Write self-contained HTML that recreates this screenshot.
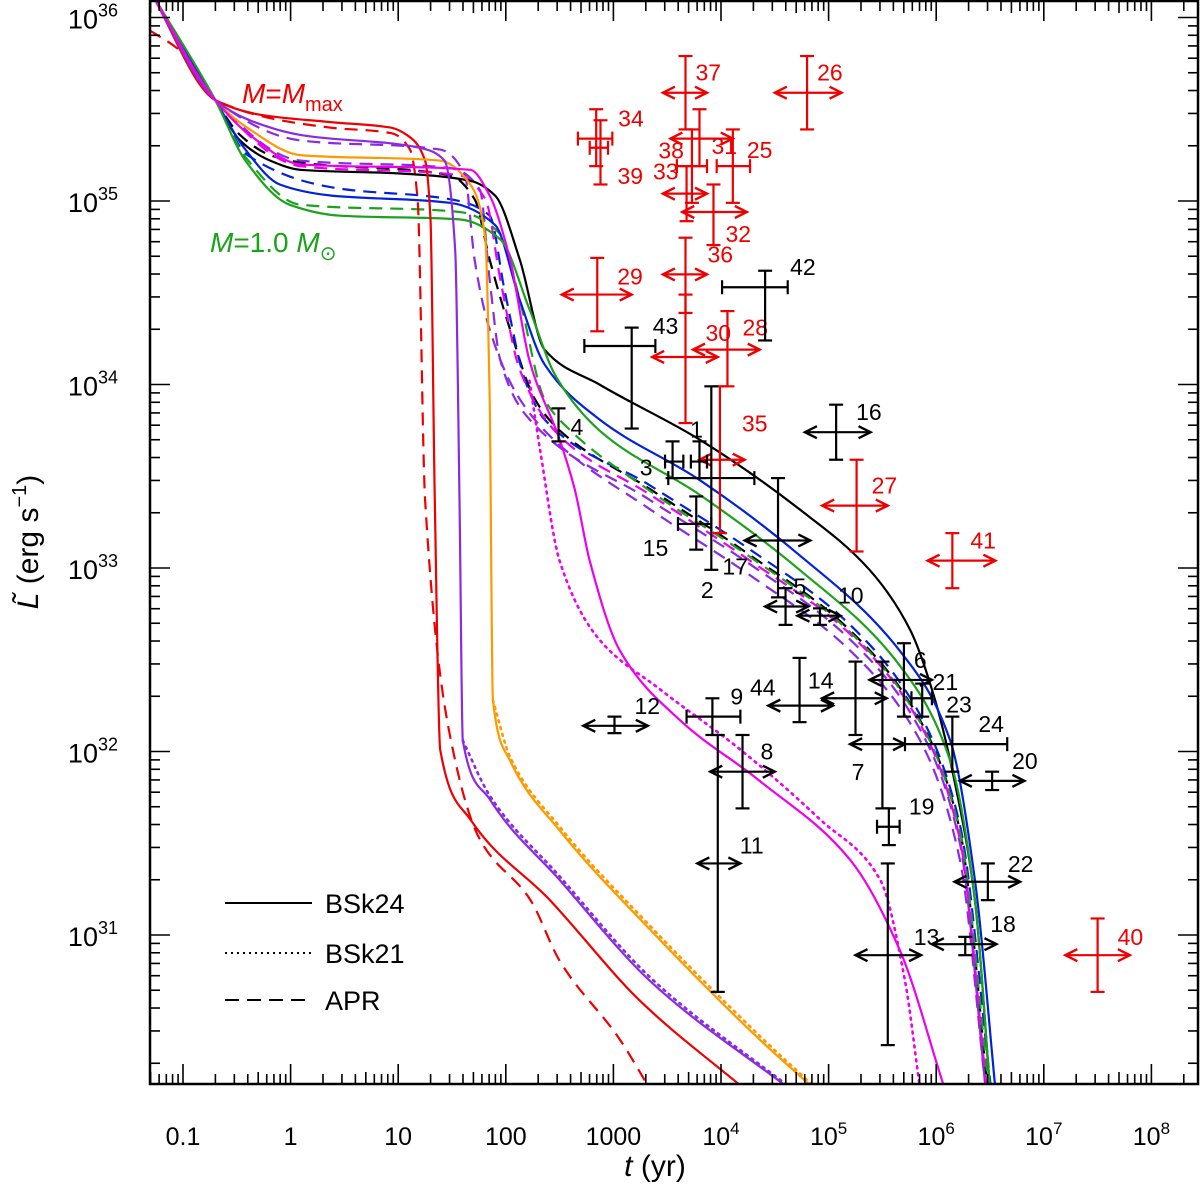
<!DOCTYPE html>
<html><head><meta charset="utf-8"><style>
body{margin:0;background:#fff}
svg{display:block}
text{font-family:"Liberation Sans",sans-serif}
</style></head><body>
<svg id="chart" width="1200" height="1186" viewBox="0 0 1200 1186" xmlns="http://www.w3.org/2000/svg">
<defs><clipPath id="plotclip"><rect x="150" y="0" width="1048" height="1084"/></clipPath></defs>
<rect x="0" y="0" width="1200" height="1186" fill="#fff"/>
<g id="curves" clip-path="url(#plotclip)"></g>
<g id="points"></g>
<g id="axes"></g>
<text x="242" y="103" fill="#e00" font-size="28" font-family="Liberation Serif, serif"><tspan font-style="italic">M</tspan>=<tspan font-style="italic">M</tspan><tspan font-size="20" dy="8">max</tspan></text>
<text x="210" y="252" fill="#1aa31a" font-size="28" font-family="Liberation Serif, serif"><tspan font-style="italic">M</tspan>=1.0 <tspan font-style="italic">M</tspan><tspan font-size="20" dy="8">⊙</tspan></text>
<g>
<line x1="225" y1="903" x2="312" y2="903" stroke="#000" stroke-width="2"/>
<text x="325" y="913" font-size="27">BSk24</text>
<line x1="225" y1="953" x2="312" y2="953" stroke="#000" stroke-width="2" stroke-dasharray="2,4"/>
<text x="325" y="963" font-size="27">BSk21</text>
<line x1="225" y1="1000" x2="312" y2="1000" stroke="#000" stroke-width="2" stroke-dasharray="14,8"/>
<text x="325" y="1010" font-size="27">APR</text>
</g>
<text x="655" y="1176" font-size="30" text-anchor="middle" font-family="Liberation Serif, serif"><tspan font-style="italic">t</tspan>  (yr)</text>
<text transform="translate(38,542) rotate(-90)" font-size="30" text-anchor="middle" font-family="Liberation Serif, serif"><tspan font-style="italic">L̃</tspan>  (erg s<tspan dy="-12" font-size="20">−1</tspan><tspan dy="12">)</tspan></text>
</svg>
<script>
// axis scales (log10 t, log10 L)
function X(lg){return 290.6+lg*107.6;}
function Y(lg){return 201+(35-lg)*183.5;}
var NS="http://www.w3.org/2000/svg";
function mk(tag,attrs,parent){var e=document.createElementNS(NS,tag);for(var k in attrs)e.setAttribute(k,attrs[k]);parent.appendChild(e);return e;}

var xTickLabels=["0.1","1","10","100","1000","10^4","10^5","10^6","10^7","10^8"];
var xTickExps=[-1,0,1,2,3,4,5,6,7,8];
var yTickExps=[31,32,33,34,35,36];

// curves: [log t, log L]
var blackSolid=[[-1.31,36.15],[-0.70,35.55],[-0.47,35.33],[-0.19,35.22],[0.09,35.17],[1.02,35.15],[1.67,35.11],[1.90,35.03],[2.13,34.68],[2.36,34.19],[2.87,34.0],[3.80,33.70],[4.73,33.32],[5.38,32.99],[5.76,32.66],[5.99,32.28],[6.17,31.84],[6.36,31.19],[6.50,30.16]];
var blueSolid=[[-1.31,36.15],[-0.70,35.55],[-0.42,35.28],[-0.10,35.09],[0.37,35.03],[1.48,34.99],[1.90,34.87],[2.13,34.46],[2.36,34.11],[2.87,33.81],[3.80,33.48],[4.73,33.07],[5.66,32.55],[6.13,32.06],[6.36,31.30],[6.55,30.16]];
var greenSolid=[[-1.31,36.15],[-0.70,35.55],[-0.42,35.22],[-0.01,34.98],[0.46,34.92],[1.57,34.90],[1.95,34.79],[2.22,34.41],[2.46,34.05],[2.87,33.75],[3.80,33.40],[4.73,32.99],[5.66,32.47],[6.13,31.95],[6.36,31.19],[6.50,30.16]];
var redSolid=[[-1.31,36.15],[-0.70,35.55],[-0.28,35.47],[0.37,35.43],[0.93,35.40],[1.08,35.36],[1.25,35.22],[1.30,34.90],[1.34,33.37],[1.39,32.01],[1.67,31.63],[2.41,31.19],[3.25,30.64],[4.22,30.16]];
var redDashed=[[-1.31,35.93],[-1.03,35.82],[-0.70,35.55],[0.37,35.40],[0.93,35.37],[1.11,35.28],[1.18,35.01],[1.25,33.37],[1.53,31.95],[1.76,31.52],[2.23,31.19],[2.50,30.86],[3.06,30.43],[3.34,30.16]];
var orangeSolid=[[-1.31,36.15],[-0.70,35.55],[-0.38,35.39],[0.09,35.25],[1.39,35.22],[1.67,35.09],[1.81,34.79],[1.85,33.92],[1.88,32.28],[2.04,31.95],[2.50,31.57],[3.34,31.03],[4.36,30.43],[4.87,30.16]];
var orangeDotted=[[1.88,32.28],[2.04,31.97],[2.50,31.59],[3.34,31.05],[4.36,30.45],[4.89,30.16]];
var purpleSolid=[[-1.31,36.15],[-0.70,35.55],[-0.38,35.44],[0.09,35.36],[1.20,35.29],[1.43,35.22],[1.53,34.73],[1.57,33.37],[1.60,32.06],[1.85,31.74],[2.50,31.30],[3.34,30.75],[4.64,30.16]];
var purpleDotted=[[1.60,32.06],[1.85,31.76],[2.50,31.32],[3.34,30.77],[4.66,30.16]];
var magentaSolid=[[-1.31,36.15],[-0.70,35.55],[-0.38,35.36],[0.09,35.20],[1.67,35.17],[1.85,35.03],[2.04,34.68],[2.22,34.13],[2.50,33.70],[2.64,33.43],[2.78,33.04],[3.06,32.55],[3.62,32.17],[4.36,31.84],[5.20,31.41],[5.66,30.92],[6.08,30.16]];
var magentaDotted=[[2.22,34.02],[2.32,33.64],[2.50,33.04],[2.87,32.61],[3.43,32.34],[4.18,32.01],[4.92,31.63],[5.48,31.30],[5.71,30.75],[5.85,30.16]];
var blackDashed=[[-1.31,36.15],[-0.70,35.55],[-0.47,35.36],[-0.19,35.25],[0.09,35.21],[1.48,35.14],[1.71,35.01],[1.85,34.68],[2.04,34.30],[2.27,33.92],[2.50,33.75],[3.34,33.43],[4.27,33.07],[5.20,32.66],[5.85,32.17],[6.22,31.57],[6.48,30.16]];
var blueDashed=[[-1.31,36.15],[-0.70,35.55],[-0.40,35.25],[0.43,35.07],[1.48,35.01],[1.85,34.92],[1.99,34.51],[2.18,34.02],[2.36,33.81],[3.34,33.45],[4.27,33.10],[5.20,32.69],[5.85,32.20],[6.22,31.60],[6.51,30.16]];
var greenDashed=[[-1.31,36.15],[-0.70,35.55],[-0.42,35.24],[0.09,34.98],[1.57,34.94],[1.95,34.82],[2.13,34.46],[2.36,33.92],[2.60,33.75],[3.34,33.42],[4.27,33.06],[5.20,32.65],[5.85,32.16],[6.22,31.56],[6.49,30.16]];
var purpleDashedA=[[-1.31,36.15],[-0.70,35.55],[0.09,35.33],[1.39,35.28],[1.62,35.14],[1.71,34.68],[1.85,34.30],[2.13,33.92],[2.50,33.67],[3.34,33.32],[4.27,32.96],[5.20,32.55],[5.85,32.06],[6.22,31.41],[6.46,30.16]];
var purpleDashedB=[[-1.31,36.15],[-0.70,35.55],[0.09,35.22],[1.48,35.18],[1.76,35.06],[1.85,34.57],[1.95,34.13],[2.22,33.81],[3.34,33.37],[4.27,33.02],[5.20,32.61],[5.85,32.12],[6.22,31.50],[6.46,30.16]];
var magentaDashed=[[-1.31,36.15],[-0.70,35.55],[0.09,35.19],[1.57,35.14],[1.81,35.01],[1.95,34.57],[2.13,34.08],[2.50,33.72],[3.34,33.40],[4.27,33.04],[5.20,32.64],[5.85,32.15],[6.22,31.52],[6.47,30.16]];

var curveList=[
 ["curve-black-dashed",blackDashed,"#000","d"],["curve-blue-dashed",blueDashed,"#0022dd","d"],["curve-green-dashed",greenDashed,"#1aa31a","d"],
 ["curve-purple-dashed-a",purpleDashedA,"#8a2be2","d"],["curve-purple-dashed-b",purpleDashedB,"#8a2be2","d"],["curve-magenta-dashed",magentaDashed,"#ee00ee","d"],
 ["curve-red-dashed",redDashed,"#e00","d"],
 ["curve-orange-dotted",orangeDotted,"#ff9900","o"],["curve-purple-dotted",purpleDotted,"#8a2be2","o"],["curve-magenta-dotted",magentaDotted,"#ee00ee","o"],
 ["curve-black-solid",blackSolid,"#000","s"],["curve-blue-solid",blueSolid,"#0022dd","s"],["curve-green-solid",greenSolid,"#1aa31a","s"],
 ["curve-red-solid",redSolid,"#e00","s"],["curve-orange-solid",orangeSolid,"#ff9900","s"],["curve-purple-solid",purpleSolid,"#8a2be2","s"],["curve-magenta-solid",magentaSolid,"#ee00ee","s"]
];

// observations
var obsNames=["37","26","34","39","38","31","33","25","32","36","29","30","28","35","27","41","40",
 "42","43","4","1","3","2","15","17","5","10","16","6","21","23","14","44","7","24","19","20","12","9","8","11","13","22","18"];
var obsT=[3.67,4.80,2.84,2.88,3.73,3.80,3.68,4.11,3.93,3.67,2.85,3.67,4.06,3.99,5.26,6.15,7.50,
 4.41,3.17,2.49,3.80,3.55,3.91,3.77,4.53,4.60,4.92,5.07,5.70,5.65,5.87,5.25,4.73,5.50,6.15,5.56,6.52,3.01,3.92,4.20,3.97,5.55,6.48,6.27];
var obsL=[35.59,35.59,35.34,35.29,35.34,35.19,35.04,35.19,34.94,34.60,34.49,34.15,34.19,33.59,33.34,33.04,30.89,
 34.53,34.21,33.78,33.58,33.58,33.49,33.24,33.15,32.79,32.74,33.74,32.39,32.39,32.29,32.29,32.25,32.04,32.04,31.59,31.84,32.14,32.19,31.89,31.39,30.89,31.29,30.95];
var obsTlo=[3.46,4.50,2.67,2.78,3.53,3.59,3.46,3.96,3.64,3.46,2.52,3.36,3.74,3.80,4.94,5.92,7.20,
 4.01,2.73,2.49,3.72,3.48,3.51,3.60,4.22,4.41,4.71,4.78,5.70,5.38,5.77,4.94,4.44,5.20,5.71,5.45,6.22,2.72,3.68,3.90,3.78,5.25,6.17,5.96];
var obsThi=[3.87,5.12,2.99,2.95,4.11,3.87,3.87,4.27,4.24,3.87,3.17,3.97,4.36,4.22,5.55,6.55,7.80,
 4.62,3.39,2.49,3.87,3.65,4.31,3.91,4.83,4.81,5.11,5.39,5.70,5.96,5.96,5.54,5.04,5.71,6.66,5.66,6.82,3.32,4.18,4.50,4.18,5.86,6.78,6.56];
var obsLlo=[35.39,35.39,35.19,35.09,34.99,35.19,34.89,34.99,34.76,34.39,34.29,33.79,33.99,33.19,33.09,32.89,30.69,
 34.24,33.76,33.69,33.49,33.49,32.99,33.10,32.84,32.69,32.69,33.59,32.19,32.39,32.19,32.09,32.16,31.69,31.89,31.49,31.79,32.10,32.09,31.69,30.69,30.40,31.19,30.89];
var obsLhi=[35.79,35.79,35.50,35.44,35.39,35.50,35.19,35.39,35.09,34.80,34.69,34.49,34.40,33.99,33.59,33.19,31.09,
 34.62,34.31,33.87,33.69,33.69,33.99,33.39,33.49,32.89,32.78,33.89,32.59,32.39,32.37,32.49,32.51,32.49,32.19,31.69,31.89,32.19,32.29,32.09,32.09,31.39,31.39,30.99];
var obsXStyle=["a","a","b","b","a","b","a","b","a","a","a","a","a","a","a","a","a",
 "b","b","n","b","b","b","b","a","a","a","a","n","a","b","a","a","a","b","b","a","a","b","a","a","a","a","a"];
var obsRed=17;
var obsLabelDx=[10,10,22,17,-8,12,-8,14,12,22,20,20,15,22,15,18,20, 25,21,12,-3,-20,-4,-28,-30,8,18,20,10,34,24,-22,-24,-18,26,20,20,20,18,18,22,26,20,25];
var obsLabelDy=[-12,-12,-12,36,20,-12,-14,-8,30,-12,-10,-16,-14,-28,-12,-12,-10, -12,-12,10,-24,14,120,32,34,-12,-12,-12,-12,10,14,-10,-10,36,-12,-12,-12,-12,-12,-12,-10,-10,-10,-12];
var obsLabelAnchor=["s","s","s","s","e","s","e","s","s","s","s","s","s","s","s","s","s", "s","s","s","m","e","m","e","e","s","s","s","s","s","s","e","e","e","s","s","s","s","s","s","s","s","s","s"];

// monotone cubic (Fritsch-Carlson) path in pixel space
function smoothPath(pts){
  var xs=pts.map(function(p){return X(p[0]);}),ys=pts.map(function(p){return Y(p[1]);});
  var n=xs.length,dx=[],s=[],m=[];
  for(var i=0;i<n-1;i++){dx[i]=xs[i+1]-xs[i];s[i]=(ys[i+1]-ys[i])/dx[i];}
  m[0]=s[0];m[n-1]=s[n-2];
  for(i=1;i<n-1;i++){
    if(s[i-1]*s[i]<=0)m[i]=0;
    else{var w1=2*dx[i]+dx[i-1],w2=dx[i]+2*dx[i-1];m[i]=(w1+w2)/(w1/s[i-1]+w2/s[i]);}
  }
  var d="M"+xs[0].toFixed(1)+","+ys[0].toFixed(1);
  for(i=0;i<n-1;i++){
    var h=dx[i]/3;
    d+=" C"+(xs[i]+h).toFixed(1)+","+(ys[i]+m[i]*h).toFixed(1)+" "+(xs[i+1]-h).toFixed(1)+","+(ys[i+1]-m[i+1]*h).toFixed(1)+" "+xs[i+1].toFixed(1)+","+ys[i+1].toFixed(1);
  }
  return d;
}

var cg=document.getElementById("curves");
curveList.forEach(function(c){
  var attrs={d:smoothPath(c[1]),fill:"none",stroke:c[2],"stroke-width":"2.2","stroke-linejoin":"round"};
  if(c[3]==="d")attrs["stroke-dasharray"]="13,8";
  if(c[3]==="o"){attrs["stroke-dasharray"]="2,5";attrs["stroke-width"]="2.6";attrs["stroke-linecap"]="round";}
  var el=mk("path",attrs,cg);
  
  
});

var pg=document.getElementById("points");
function arrowHead(g,x,y,dir,col){
  mk("path",{d:"M"+(x-dir*12)+","+(y-6)+" L"+x+","+y+" L"+(x-dir*12)+","+(y+6),fill:"none",stroke:col,"stroke-width":"2.4"},g);
}
obsNames.forEach(function(nm,i){
  var col=i<obsRed?"#e00":"#000";
  var g=mk("g",{},pg);
  
  
  var cx=X(obsT[i]),cy=Y(obsL[i]),x1=X(obsTlo[i]),x2=X(obsThi[i]),y1=Y(obsLhi[i]),y2=Y(obsLlo[i]);
  var sw="2.2",cap=7;
  if(Math.abs(y2-y1)>1){
    mk("line",{x1:cx,y1:y1,x2:cx,y2:y2,stroke:col,"stroke-width":sw},g);
    mk("line",{x1:cx-cap,y1:y1,x2:cx+cap,y2:y1,stroke:col,"stroke-width":sw},g);
    mk("line",{x1:cx-cap,y1:y2,x2:cx+cap,y2:y2,stroke:col,"stroke-width":sw},g);
  }
  var st=obsXStyle[i];
  if(st!=="n"){
    mk("line",{x1:x1,y1:cy,x2:x2,y2:cy,stroke:col,"stroke-width":sw},g);
    if(st==="b"){
      mk("line",{x1:x1,y1:cy-cap,x2:x1,y2:cy+cap,stroke:col,"stroke-width":sw},g);
      mk("line",{x1:x2,y1:cy-cap,x2:x2,y2:cy+cap,stroke:col,"stroke-width":sw},g);
    } else {
      arrowHead(g,x1,cy,-1,col);arrowHead(g,x2,cy,1,col);
    }
  }
  var an=obsLabelAnchor[i]==="e"?"end":(obsLabelAnchor[i]==="m"?"middle":"start");
  var t=mk("text",{x:cx+obsLabelDx[i],y:cy+obsLabelDy[i],fill:col,"font-size":"23","text-anchor":an},g);
  t.textContent=nm;
});

var ag=document.getElementById("axes");
mk("rect",{x:150,y:1,width:1048,height:1083,fill:"none",stroke:"#000","stroke-width":"2.5"},ag);
var xMin=-1.31,xMax=8.43,yMin=30.19,yMax=36.09;
for(var d=-2;d<=8;d++){
  for(var m=1;m<10;m++){
    var lg=d+Math.log10(m); if(lg<xMin||lg>xMax)continue;
    var len=m===1?20:(m===5?12:10); var x=X(lg);
    mk("line",{x1:x,y1:1084,x2:x,y2:1084-len,stroke:"#000","stroke-width":"1.6"},ag);
    mk("line",{x1:x,y1:1,x2:x,y2:1+len,stroke:"#000","stroke-width":"1.6"},ag);
  }
}
for(var d2=30;d2<=36;d2++){
  for(var m2=1;m2<10;m2++){
    var lgy=d2+Math.log10(m2); if(lgy<yMin||lgy>yMax)continue;
    var leny=m2===1?20:10; var y=Y(lgy);
    mk("line",{x1:150,y1:y,x2:150+leny,y2:y,stroke:"#000","stroke-width":"1.6"},ag);
    mk("line",{x1:1198,y1:y,x2:1198-leny,y2:y,stroke:"#000","stroke-width":"1.6"},ag);
  }
}
xTickExps.forEach(function(e,i){
  var lab=xTickLabels[i];
  var t=mk("text",{x:X(e),y:1145,"font-size":"25","text-anchor":"middle"},ag);
  
  
  if(lab.indexOf("^")>0){var p=lab.split("^");t.textContent=p[0];var s=mk("tspan",{dy:"-11","font-size":"17"},t);s.textContent=p[1];}
  else t.textContent=lab;
});
yTickExps.forEach(function(e){
  var t=mk("text",{x:118,y:Y(e)+11,"font-size":"27","text-anchor":"end"},ag);
  
  
  t.textContent="10";var s=mk("tspan",{dy:"-12","font-size":"18"},t);s.textContent=String(e);
});
</script>
</body></html>
